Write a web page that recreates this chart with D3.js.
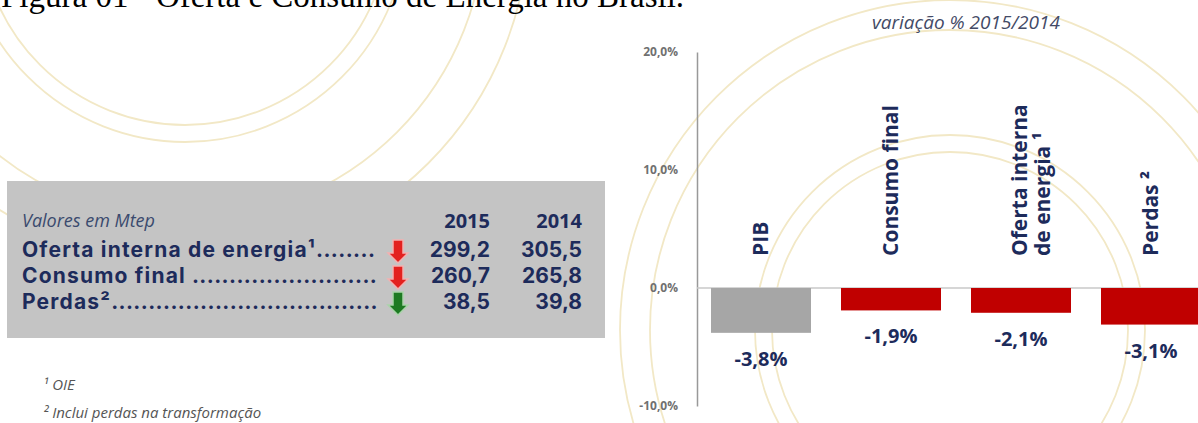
<!DOCTYPE html>
<html>
<head>
<meta charset="utf-8">
<script src="https://cdn.jsdelivr.net/npm/d3@7"></script>
<style>
body { margin: 0; background: #fff; }
svg { display: block; }
</style>
</head>
<body>
<svg width="1198" height="423"></svg>
<script>
// chart data
var categories = ["PIB", "Consumo final", "Oferta interna de energia ¹", "Perdas ²"];
var categoryLines = [["PIB"], ["Consumo final"], ["Oferta interna", "de energia ¹"], ["Perdas ²"]];
var variation = [-3.8, -1.9, -2.1, -3.1];
var barColors = ["#a6a6a6", "#c00000", "#c00000", "#c00000"];
var yTicks = [-10, 0, 10, 20];

// table data
var tableRows = ["Oferta interna de energia¹", "Consumo final", "Perdas²"];
var years = ["2015", "2014"];
var values2015 = [299.2, 260.7, 38.5];
var values2014 = [305.5, 265.8, 39.8];
var arrowColors = ["#e3211f", "#e3211f", "#1d7a22"];
var footnotes = ["¹ OIE", "² Inclui perdas na transformação"];

var caption = "Figura 01 - Oferta e Consumo de Energia no Brasil.";
var chartTitle = "variação % 2015/2014";

var navy = "#1d2b5b";
var font = "'Open Sans', Lato, sans-serif";
var rowFont = "Inter, 'Open Sans', sans-serif";

var br = d3.formatLocale({decimal: ",", thousands: ".", grouping: [3], currency: ["R$", ""], minus: "-"});
var num = br.format(".1f");
var pct = function(d) { return num(d) + "%"; };

var svg = d3.select("svg");

// faint background rings (logo watermark)
var rings = [
    {cx: 185, cy: -80, r: [205, 222, 300, 344]},
    {cx: 950, cy: 330, r: [178, 195, 300, 330]}
];
var bg = svg.append("g");
rings.forEach(function(ring) {
    bg.selectAll(null)
        .data(ring.r)
        .enter().append("circle")
        .attr("cx", ring.cx)
        .attr("cy", ring.cy)
        .attr("r", function(d) { return d; })
        .attr("fill", "none")
        .attr("stroke", "#f2e8c6")
        .attr("stroke-width", 1.8);
});

// caption, cut at the top like the scan
svg.append("text")
    .attr("x", 1)
    .attr("y", 7)
    .style("font-family", "'Liberation Serif', 'Times New Roman', serif")
    .style("font-size", "33px")
    .attr("fill", "#000")
    .text(caption);

// ---- left table ----
var tbl = svg.append("g");
tbl.append("rect")
    .attr("x", 7).attr("y", 181)
    .attr("width", 598).attr("height", 157)
    .attr("fill", "#c4c4c4");

tbl.append("text")
    .attr("x", 22).attr("y", 227)
    .style("font-family", font).style("font-style", "italic").style("font-size", "18px")
    .attr("fill", "#3a4a6e")
    .text("Valores em Mtep");

var colRight = [490, 582];
tbl.selectAll(".yr")
    .data(years)
    .enter().append("text")
    .attr("class", "yr")
    .attr("x", function(d, i) { return colRight[i]; })
    .attr("y", 228)
    .attr("text-anchor", "end")
    .style("font-family", font).style("font-weight", "bold").style("font-size", "20px")
    .attr("fill", navy)
    .text(function(d) { return d; });

var rowY = function(i) { return 257 + i * 26; };

var rows = tbl.selectAll(".row")
    .data(tableRows)
    .enter().append("g")
    .attr("class", "row");

var labels = rows.append("text")
    .attr("class", "lbl")
    .attr("x", 22)
    .attr("y", function(d, i) { return rowY(i); })
    .style("font-family", rowFont).style("font-weight", "bold").style("font-size", "21px")
    .attr("fill", navy)
    .text(function(d) { return d; });

// widen the letters a little so the first label ends where the scan's does
var natural = labels.node().getComputedTextLength();
var spacing = Math.max(0, (294 - natural) / tableRows[0].length);
labels.style("letter-spacing", spacing + "px");

// leader dots up to the arrow column
rows.each(function(d, i) {
    var g = d3.select(this);
    var w = g.select(".lbl").node().getComputedTextLength();
    var start = 22 + w + (i === 1 ? 6 : 0);
    var dots = g.append("text")
        .attr("x", start)
        .attr("y", rowY(i))
        .style("font-family", rowFont).style("font-weight", "bold").style("font-size", "21px")
        .style("letter-spacing", "0.4px")
        .attr("fill", navy)
        .text(".");
    var dw = dots.node().getComputedTextLength();
    dots.text(".".repeat(Math.max(0, Math.floor((380 - start) / dw))));
});

function downArrow(cx, top, bottom) {
    var h = bottom - 10;
    return "M" + (cx - 5) + "," + top + "L" + (cx + 5) + "," + top +
        "L" + (cx + 5) + "," + h + "L" + (cx + 10) + "," + h +
        "L" + cx + "," + bottom + "L" + (cx - 10) + "," + h +
        "L" + (cx - 5) + "," + h + "Z";
}

rows.append("path")
    .attr("d", function(d, i) { return downArrow(398, rowY(i) - 17, rowY(i) + 6); })
    .attr("fill", function(d, i) { return arrowColors[i]; })
    .attr("stroke", function(d, i) { return i < 2 ? "#f3b0b0" : "#a9d3a9"; })
    .attr("stroke-width", 1.5);

rows.append("text")
    .attr("x", colRight[0])
    .attr("y", function(d, i) { return rowY(i); })
    .attr("text-anchor", "end")
    .style("font-family", rowFont).style("font-weight", "bold").style("font-size", "21px")
    .attr("fill", navy)
    .text(function(d, i) { return num(values2015[i]); });

rows.append("text")
    .attr("x", colRight[1])
    .attr("y", function(d, i) { return rowY(i); })
    .attr("text-anchor", "end")
    .style("font-family", rowFont).style("font-weight", "bold").style("font-size", "21px")
    .attr("fill", navy)
    .text(function(d, i) { return num(values2014[i]); });

svg.selectAll(".foot")
    .data(footnotes)
    .enter().append("text")
    .attr("class", "foot")
    .attr("x", 43)
    .attr("y", function(d, i) { return 390 + i * 28; })
    .style("font-family", font).style("font-style", "italic").style("font-size", "15px")
    .attr("fill", "#555")
    .text(function(d) { return d; });

// ---- right bar chart ----
var x = d3.scaleBand()
    .domain(categories)
    .range([697, 1215])
    .paddingInner(0.2308)
    .paddingOuter(0.1077);

var y = d3.scaleLinear()
    .domain([-10, 20])
    .range([406, 52]);

svg.append("text")
    .attr("x", 872).attr("y", 29)
    .style("font-family", font).style("font-style", "italic").style("font-size", "19px")
    .attr("fill", "#434a66")
    .text(chartTitle);

var yAxis = svg.append("g")
    .attr("class", "axis y")
    .attr("transform", "translate(697,0)")
    .call(d3.axisLeft(y).tickValues(yTicks).tickSize(0).tickPadding(19).tickFormat(pct));
yAxis.select(".domain").attr("stroke", "#999").attr("stroke-width", 1.5);
yAxis.selectAll("text")
    .style("font-family", font).style("font-weight", "bold").style("font-size", "12px")
    .attr("fill", "#707070");

svg.append("line")
    .attr("x1", 697).attr("x2", 1198)
    .attr("y1", y(0)).attr("y2", y(0))
    .attr("stroke", "#c8c8c8")
    .attr("stroke-width", 1.5);

svg.selectAll(".bar")
    .data(variation)
    .enter().append("rect")
    .attr("class", "bar")
    .attr("x", function(d, i) { return x(categories[i]); })
    .attr("y", function(d) { return y(Math.max(0, d)); })
    .attr("width", x.bandwidth())
    .attr("height", function(d) { return Math.abs(y(d) - y(0)); })
    .attr("fill", function(d, i) { return barColors[i]; });

svg.selectAll(".val")
    .data(variation)
    .enter().append("text")
    .attr("class", "val")
    .attr("x", function(d, i) { return x(categories[i]) + x.bandwidth() / 2; })
    .attr("y", function(d) { return y(d) + 33; })
    .attr("text-anchor", "middle")
    .style("font-family", font).style("font-weight", "bold").style("font-size", "20px")
    .attr("fill", navy)
    .text(function(d) { return pct(d); });

var cats = svg.selectAll(".cat")
    .data(categoryLines)
    .enter().append("g")
    .attr("class", "cat")
    .attr("transform", function(d, i) {
        return "translate(" + (x(categories[i]) + x.bandwidth() / 2) + ",256) rotate(-90)";
    });

cats.selectAll("text")
    .data(function(d) { return d.map(function(t, j) { return {t: t, j: j, n: d.length}; }); })
    .enter().append("text")
    .attr("x", 0)
    .attr("y", function(d) { return d.n === 1 ? 7 : (d.j === 0 ? 6 : 29); })
    .style("font-family", font).style("font-weight", "bold").style("font-size", "21px")
    .attr("fill", navy)
    .text(function(d) { return d.t; });
</script>
</body>
</html>
